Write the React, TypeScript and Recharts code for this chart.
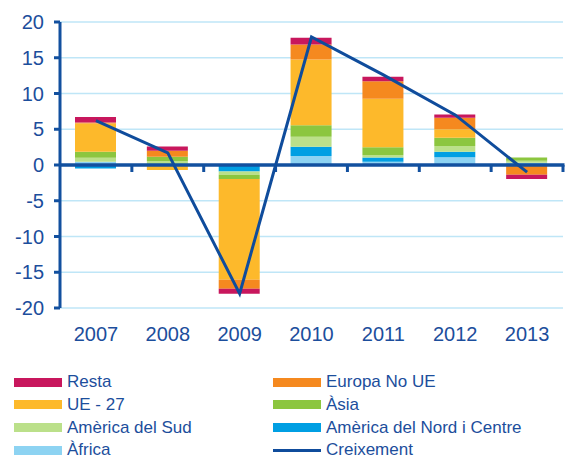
import React from 'react'
import { ComposedChart, Bar, Line, XAxis, YAxis, CartesianGrid, ReferenceLine } from 'recharts'

const years = ['2007', '2008', '2009', '2010', '2011', '2012', '2013']

// valors per zona (punts percentuals)
const africa = [0.45, 0.15, 0, 1.25, 0.45, 1.1, 0.3]
const americaNord = [-0.5, 0, -0.9, 1.3, 0.6, 0.75, 0]
const americaSud = [0.55, 0.4, -0.45, 1.4, 0.3, 0.8, 0.3]
const asia = [0.85, 0.6, -0.6, 1.6, 1.15, 1.15, 0.45]
const ue27 = [3.95, -0.7, -14.1, 9.2, 6.75, 1.2, 0]
const europaNoUe = [0.15, 0.85, -1.25, 2.1, 2.45, 1.6, -1.35]
const resta = [0.75, 0.6, -0.7, 0.95, 0.65, 0.45, -0.6]
const creixement = [6.2, 1.7, -18.0, 17.9, 12.6, 7.0, -1.0]

const yTicks = [-20, -15, -10, -5, 0, 5, 10, 15, 20]

const BLUE = '#12509f'
const TEXT = '#1c4e9c'

const series = [
  { key: 'africa', name: 'Àfrica', color: '#8dd3f2', values: africa },
  { key: 'americaNord', name: 'Amèrica del Nord i Centre', color: '#009fe3', values: americaNord },
  { key: 'americaSud', name: 'Amèrica del Sud', color: '#bbe08a', values: americaSud },
  { key: 'asia', name: 'Àsia', color: '#8cc63f', values: asia },
  { key: 'ue27', name: 'UE - 27', color: '#fdb92b', values: ue27 },
  { key: 'europaNoUe', name: 'Europa No UE', color: '#f5891f', values: europaNoUe },
  { key: 'resta', name: 'Resta', color: '#c8175d', values: resta },
]

const data = years.map((year, i) => {
  const row: Record<string, any> = { year, creixement: creixement[i] }
  series.forEach((s) => {
    row[s.key] = s.values[i]
  })
  return row
})

// ordre de la llegenda (dues columnes)
const legendOrder = ['resta', 'europaNoUe', 'ue27', 'asia', 'americaSud', 'americaNord', 'africa', 'creixement']

// eix del zero amb marques entre categories
function ZeroAxis(props: any) {
  const { x1, y1, x2 } = props
  const n = years.length
  const marks = []
  for (let i = 1; i <= n; i++) {
    const x = x1 + ((x2 - x1) * i) / n
    marks.push(<line key={i} x1={x} y1={y1} x2={x} y2={y1 + 7} stroke={BLUE} strokeWidth={3} />)
  }
  return (
    <g>
      <line x1={x1} y1={y1} x2={x2 + 1.5} y2={y1} stroke={BLUE} strokeWidth={3.5} />
      {marks}
    </g>
  )
}

export default function App() {
  return (
    <div style={{ position: 'absolute', left: 0, top: 0, width: 573, height: 458, fontFamily: '"Liberation Sans", Arial, sans-serif' }}>
      <ComposedChart
        width={573}
        height={350}
        data={data}
        stackOffset="sign"
        margin={{ top: 22, right: 10, bottom: 2, left: 0 }}
      >
        <CartesianGrid vertical={false} stroke="#bfe6f7" strokeWidth={1.5} />
        <XAxis
          dataKey="year"
          axisLine={false}
          tickLine={false}
          tickMargin={13}
          height={40}
          tick={{ fill: TEXT, fontSize: 20 }}
          interval={0}
        />
        <YAxis
          domain={[-20, 20]}
          ticks={yTicks}
          width={60}
          axisLine={{ stroke: BLUE, strokeWidth: 3 }}
          tickLine={{ stroke: BLUE, strokeWidth: 3 }}
          tickSize={6}
          tickMargin={10}
          tick={{ fill: TEXT, fontSize: 20 }}
          interval={0}
        />
        {series.map((s) => (
          <Bar key={s.key} dataKey={s.key} name={s.name} stackId="a" fill={s.color} barSize={41} isAnimationActive={false} />
        ))}
        <ReferenceLine y={0} shape={<ZeroAxis />} />
        <Line
          type="linear"
          dataKey="creixement"
          name="Creixement"
          stroke="#0f4c9c"
          strokeWidth={3}
          dot={false}
          isAnimationActive={false}
        />
      </ComposedChart>
      {legendOrder.map((key, i) => {
        const col = i % 2
        const row = Math.floor(i / 2)
        const s = series.find((x) => x.key === key)
        const left = col === 0 ? 14 : 273
        const top = 382 + row * 22.8
        return (
          <div key={key} style={{ position: 'absolute', left, top: top - 11, height: 22, display: 'flex', alignItems: 'center' }}>
            {s ? (
              <div style={{ width: 48, height: 9, background: s.color }} />
            ) : (
              <div style={{ width: 48, height: 3, background: '#0f4c9c' }} />
            )}
            <span style={{ marginLeft: 5, fontSize: 17, color: TEXT, whiteSpace: 'nowrap' }}>{s ? s.name : 'Creixement'}</span>
          </div>
        )
      })}
    </div>
  )
}
